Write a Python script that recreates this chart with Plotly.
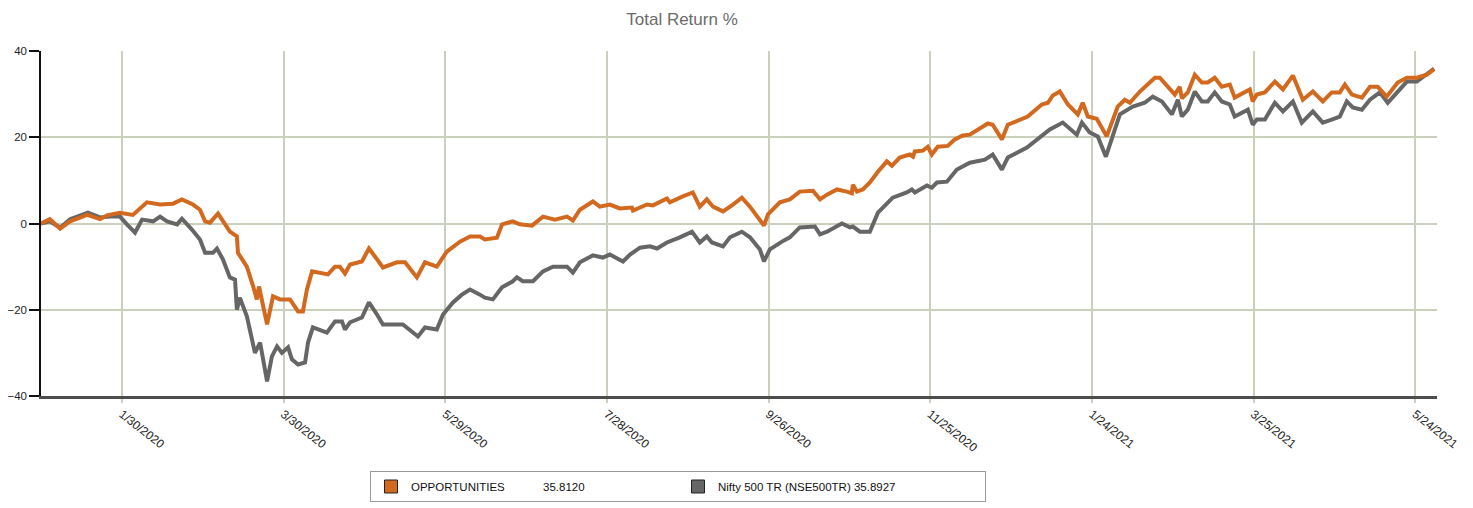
import pandas as pd
import plotly.graph_objects as go

# ---- data ----
base_date = "2019-12-31"

opp_days = [0, 3.3, 7.1, 10.8, 17.1, 21.9, 24.5, 29.3, 34.1, 39.3, 44.2, 49.0, 52.3, 56.4, 59.0,
            60.9, 62.7, 65.7, 70.1, 72.7, 73.1, 76.4, 78.7, 80.1, 80.9, 83.9, 86.1, 88.7, 92.4,
            95.4, 97.2, 98.7, 100.6, 106.5, 109.1, 110.9, 112.8, 114.7, 119.1, 121.7, 124.7,
            126.9, 132.1, 135.1, 139.5, 142.5, 146.9, 150.6, 155.5, 159.2, 162.9, 164.7, 169.2,
            171.1, 175.1, 177.7, 182.2, 186.3, 190.7, 195.2, 197.4, 200.0, 204.8, 207.4, 211.1,
            214.8, 219.3, 219.7, 224.9, 227.1, 232.3, 233.4, 238.2, 241.9, 244.5, 247.1, 249.4,
            253.1, 256.8, 260.1, 263.1, 266.0, 268.3, 269.8, 274.2, 277.9, 281.6, 286.5, 289.1,
            291.7, 295.4, 299.1, 300.9, 301.3, 302.8, 305.0, 307.6, 310.6, 313.9, 315.8, 318.7,
            322.4, 323.6, 324.3, 327.3, 329.1, 330.6, 332.8, 336.5, 339.1, 342.1, 344.7, 347.7,
            351.4, 353.2, 356.6, 358.8, 363.3, 366.2, 371.4, 373.7, 375.5, 378.1, 381.1, 384.8,
            386.6, 388.5, 391.8, 395.5, 399.6, 402.2, 404.1, 407.8, 413.4, 415.2, 420.8, 422.6,
            423.4, 425.6, 428.2, 430.8, 433.0, 435.6, 438.2, 441.2, 443.0, 448.6, 449.7, 451.2,
            454.2, 457.9, 460.9, 464.6, 468.3, 472.0, 475.7, 479.0, 482.0, 483.9, 486.5, 490.2,
            493.2, 496.1, 499.4, 503.5, 506.9, 510.6, 514.3, 517.0]
opp_values = [0, 1.0, -1.2, 0.5, 2.0, 1.0, 1.9, 2.5, 2.0, 4.9, 4.4, 4.6, 5.6, 4.4, 3.2,
              0.5, 0.2, 2.3, -1.9, -3.0, -6.8, -10.0, -14.5, -17.6, -14.6, -23.4, -16.9, -17.6, -17.6,
              -20.4, -20.4, -15.3, -11.1, -11.8, -10.0, -10.0, -11.6, -9.5, -8.8, -5.8, -8.3,
              -10.2, -9.0, -9.0, -12.5, -9.0, -10.0, -6.5, -4.2, -3.0, -3.0, -3.7, -3.3,
              -0.2, 0.5, -0.2, -0.5, 1.6, 0.9, 1.6, 0.7, 3.2, 5.1, 3.9, 4.4,
              3.5, 3.7, 3.0, 4.4, 4.2, 5.8, 4.9, 6.3, 7.2, 3.9, 5.6, 3.9,
              2.8, 4.4, 6.0, 3.9, 1.6, -0.5, 2.1, 4.9, 5.6, 7.4, 7.6, 5.6,
              6.7, 7.9, 7.4, 7.0, 9.0, 7.4, 7.9, 9.5, 12.0, 14.4, 13.4, 15.3,
              16.0, 15.5, 16.7, 16.9, 17.8, 16.0, 17.8, 18.0, 19.5, 20.4, 20.6, 21.8,
              23.2, 22.9, 19.5, 22.9, 24.1, 24.8, 27.6, 28.0, 29.7, 30.6, 27.6, 25.3,
              28.0, 24.8, 24.3, 20.2, 27.1, 28.7, 28.0, 30.6, 33.8, 33.8, 29.9, 31.7,
              29.0, 30.4, 34.5, 32.7, 32.7, 33.8, 31.7, 32.2, 29.2, 31.1, 28.3, 29.9,
              30.4, 32.9, 31.1, 34.3, 28.7, 30.6, 28.3, 30.4, 30.4, 32.2, 29.9, 29.2,
              31.7, 31.7, 29.4, 32.7, 33.8, 33.8, 34.5, 35.812]

nifty_days = [0, 3.3, 7.1, 10.8, 17.4, 21.9, 25.6, 29.3, 31.9, 34.9, 37.5, 41.6, 44.2, 46.8,
              50.5, 52.3, 56.0, 59.0, 60.9, 63.8, 65.3, 67.5, 70.1, 72.0, 72.7, 73.8, 76.4,
              79.4, 81.3, 83.9, 85.7, 87.6, 89.4, 91.7, 93.1, 95.4, 98.0, 99.1, 100.9, 106.1,
              109.1, 111.7, 112.8, 114.7, 119.1, 121.7, 124.7, 126.9, 134.3, 137.7, 139.9,
              142.5, 146.9, 149.2, 152.9, 156.2, 159.2, 162.9, 164.7, 167.7, 171.1, 175.1,
              176.6, 178.8, 182.6, 186.3, 190.0, 195.2, 197.4, 200.0, 204.8, 208.5, 211.1,
              216.0, 218.6, 222.3, 226.0, 228.6, 232.3, 237.1, 241.6, 244.5, 247.1, 249.0,
              253.1, 255.7, 260.1, 263.1, 266.8, 268.3, 270.5, 275.0, 277.9, 281.6, 287.2,
              289.1, 291.7, 297.2, 300.2, 301.3, 303.9, 307.6, 310.6, 316.1, 321.3, 323.2,
              324.3, 328.8, 330.6, 332.5, 336.2, 339.9, 344.7, 350.3, 353.2, 356.6, 358.8,
              365.9, 371.4, 374.4, 379.2, 384.4, 386.3, 389.2, 392.2, 395.2, 400.4, 405.2,
              409.6, 412.6, 416.0, 419.7, 421.9, 423.4, 425.6, 428.2, 430.8, 433.0, 435.6,
              438.2, 441.2, 443.0, 447.9, 449.7, 451.2, 454.2, 457.9, 460.9, 464.6, 467.9,
              472.0, 475.7, 479.0, 482.0, 484.6, 486.8, 490.2, 493.2, 496.9, 499.8, 504.3,
              506.9, 510.6, 514.3, 517.0]
nifty_values = [0, 0.5, -1.0, 1.0, 2.5, 1.4, 1.6, 1.6, -0.2, -2.1, 0.9, 0.5, 1.6, 0.5,
                -0.2, 1.1, -1.4, -3.7, -6.8, -6.8, -5.8, -8.3, -12.5, -13.0, -20.0, -17.2, -21.5,
                -30.0, -27.6, -36.6, -30.8, -28.5, -30.0, -28.7, -31.5, -32.7, -32.2, -27.6, -24.1, -25.3,
                -22.7, -22.7, -24.6, -22.9, -21.8, -18.3, -21.1, -23.4, -23.4, -25.0, -26.2,
                -24.1, -24.6, -21.1, -18.3, -16.5, -15.3, -16.5, -17.2, -17.6, -14.8, -13.4,
                -12.5, -13.4, -13.4, -11.1, -10.0, -10.0, -11.4, -9.0, -7.4, -7.9, -7.2,
                -8.8, -7.2, -5.6, -5.3, -5.8, -4.4, -3.2, -1.9, -4.4, -3.0, -4.4,
                -5.3, -3.2, -1.9, -3.2, -6.0, -8.8, -6.0, -4.2, -3.2, -0.9, -0.7,
                -2.5, -1.9, 0.0, -0.9, -0.7, -1.9, -1.9, 2.5, 6.0, 7.2, 7.9,
                7.2, 8.8, 8.3, 9.5, 9.7, 12.5, 14.1, 14.8, 16.0, 12.5, 15.3,
                17.6, 20.2, 21.8, 23.4, 20.6, 23.4, 21.1, 20.2, 15.5, 25.3, 27.1,
                28.0, 29.4, 28.3, 25.3, 28.7, 24.8, 26.4, 30.6, 28.3, 28.3, 30.4,
                28.3, 27.6, 24.8, 26.4, 22.9, 24.1, 24.1, 28.0, 26.0, 28.3, 23.4,
                26.0, 23.4, 24.1, 24.8, 28.3, 26.9, 26.4, 28.7, 30.4, 28.0, 31.1,
                32.9, 32.9, 34.5, 35.8927]

tick_dates = ["2020-01-30", "2020-03-30", "2020-05-29", "2020-07-28", "2020-09-26",
              "2020-11-25", "2021-01-24", "2021-03-25", "2021-05-24"]
tick_labels = ["1/30/2020", "3/30/2020", "5/29/2020", "7/28/2020", "9/26/2020",
               "11/25/2020", "1/24/2021", "3/25/2021", "5/24/2021"]
y_ticks = [-40, -20, 0, 20, 40]

series_names = ["OPPORTUNITIES" + "\u00a0" * 12 + "35.8120", "Nifty 500 TR (NSE500TR) 35.8927"]
series_colors = ["#d2691e", "#666666"]

# ---- figure ----
base = pd.Timestamp(base_date)
opp_x = base + pd.to_timedelta(opp_days, unit="D")
nifty_x = base + pd.to_timedelta(nifty_days, unit="D")

FONT = "Liberation Sans, Arial, sans-serif"
GRID = "#c9d1bd"
OFF = 8          # page body margin
W, H = 1473 - OFF, 508 - OFF

fig = go.Figure()
fig.add_trace(go.Scatter(x=nifty_x, y=nifty_values, mode="lines",
                         line=dict(color=series_colors[1], width=4), showlegend=False))
fig.add_trace(go.Scatter(x=opp_x, y=opp_values, mode="lines",
                         line=dict(color=series_colors[0], width=4), showlegend=False))

# legend entries (square swatches)
for name, col in zip(series_names, series_colors):
    fig.add_trace(go.Scatter(x=[None], y=[None], mode="markers", name=name,
                             marker=dict(symbol="square", size=13, color=col,
                                         line=dict(color="#222222", width=1))))

fig.update_layout(
    width=W, height=H,
    margin=dict(l=41 - OFF, r=36, t=51 - OFF, b=112, autoexpand=False),
    paper_bgcolor="white", plot_bgcolor="white",
    font=dict(family=FONT, size=12, color="#222222"),
    title=dict(text="Total Return %", x=(682 - OFF) / W, xref="container", xanchor="center",
               y=1 - (19 - OFF) / H, yref="container", yanchor="middle",
               font=dict(family=FONT, size=17, color="#6b6b6b")),
    legend=dict(orientation="h", xref="container", yref="container",
                x=(370 - OFF) / W, y=1 - (471 - OFF) / H, xanchor="left", yanchor="top",
                bordercolor="#9a9a9a", borderwidth=1, bgcolor="white",
                entrywidth=262, entrywidthmode="pixels",
                font=dict(family=FONT, size=11.5, color="#111111")),
)

fig.update_xaxes(
    type="date",
    range=["2019-12-31", "2021-06-01 02:00"],
    tickmode="array", tickvals=tick_dates, ticktext=tick_labels,
    tickangle=38, ticks="outside", ticklen=4, tickcolor=GRID, tickwidth=1.5,
    showgrid=True, gridcolor=GRID, gridwidth=1.5,
    showline=True, linecolor="#4d4d4d", linewidth=2.5,
    zeroline=False,
    tickfont=dict(family=FONT, size=12, color="#222222"),
)
fig.update_yaxes(
    range=[-40, 40], tickvals=y_ticks,
    ticks="outside", ticklen=10, tickcolor="#111111", tickwidth=1.5,
    showgrid=True, gridcolor=GRID, gridwidth=1.5,
    showline=True, linecolor="#111111", linewidth=1.5,
    zeroline=False,
    tickfont=dict(family=FONT, size=11.5, color="#222222"),
)

fig.write_html("out.html")
